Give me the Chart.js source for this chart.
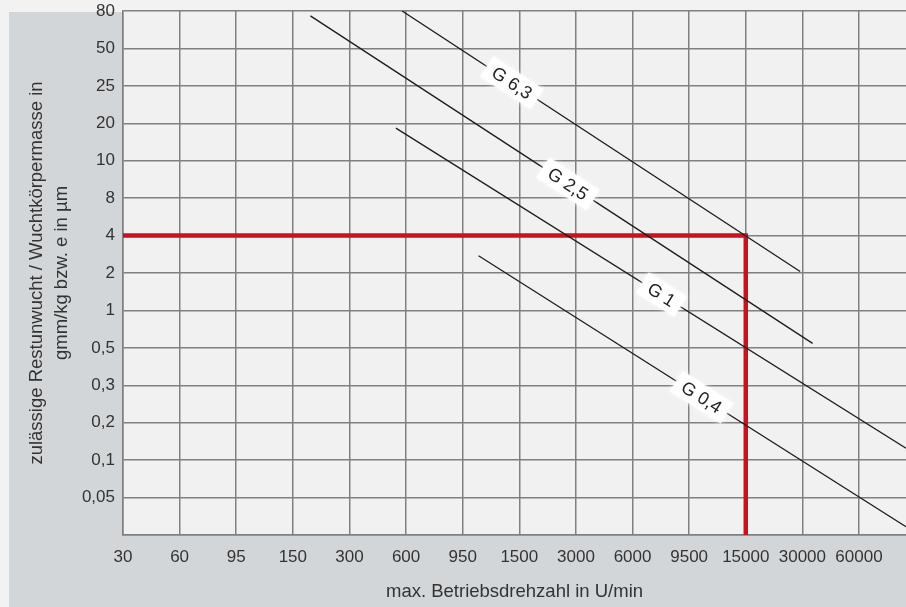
<!DOCTYPE html>
<html>
<head>
<meta charset="utf-8">
<script src="https://cdn.jsdelivr.net/npm/chart.js@4/dist/chart.umd.min.js"></script>
<style>
  html, body { margin: 0; padding: 0; background: #f2f2f2; overflow: hidden; }
  #chart { display: block; }
</style>
</head>
<body>
<canvas id="chart" width="906" height="607"></canvas>
<script>
// axis categories (equally spaced)
const xLabels = ['30', '60', '95', '150', '300', '600', '950', '1500', '3000', '6000', '9500', '15000', '30000', '60000'];
const yLabels = ['', '0,05', '0,1', '0,2', '0,3', '0,5', '1', '2', '4', '8', '10', '20', '25', '50', '80'];

// balance grade lines, positions in category steps
const gradeNames = ['G 6,3', 'G 2,5', 'G 1', 'G 0,4'];
const g63X = [4.93, 11.96];
const g63Y = [14.0, 7.04];
const g25X = [3.31, 12.18];
const g25Y = [13.87, 5.12];
const g1X = [4.82, 13.83];
const g1Y = [10.87, 2.32];
const g04X = [6.28, 13.83];
const g04Y = [7.46, 0.22];
const gradeLabelX = [6.87, 7.86, 9.51, 10.22];

// example reading: 15000 U/min -> 4
const readX = [0, 11, 11];
const readY = [8, 8, 0];

function toPoints(xs, ys) {
  return xs.map(function(x, i) { return { x: x, y: ys[i] }; });
}

const gradeLines = [toPoints(g63X, g63Y), toPoints(g25X, g25Y), toPoints(g1X, g1Y), toPoints(g04X, g04Y)];

const backdrop = {
  id: 'backdrop',
  beforeDraw: function(chart) {
    const ctx = chart.ctx;
    const a = chart.chartArea;
    ctx.save();
    ctx.fillStyle = '#f2f2f2';
    ctx.fillRect(0, 0, chart.width, chart.height);
    ctx.fillStyle = '#d3d6d9';
    ctx.fillRect(9, 12, chart.width - 9, chart.height - 12);
    ctx.fillStyle = '#f1f1f1';
    ctx.fillRect(a.left, a.top, a.right - a.left, a.bottom - a.top);
    ctx.restore();
  }
};

// white tags sitting on the grade lines
const gradeTags = {
  id: 'gradeTags',
  afterDatasetsDraw: function(chart) {
    const ctx = chart.ctx;
    const xs = chart.scales.x;
    const ys = chart.scales.y;
    ctx.save();
    ctx.font = '18px "Liberation Sans", Arial, sans-serif';
    ctx.textAlign = 'center';
    ctx.textBaseline = 'middle';
    gradeLines.forEach(function(pts, i) {
      const p0 = pts[0], p1 = pts[pts.length - 1];
      const lx = gradeLabelX[i];
      const ly = p0.y + (p1.y - p0.y) * (lx - p0.x) / (p1.x - p0.x);
      const px = xs.getPixelForValue(lx);
      const py = ys.getPixelForValue(ly);
      const ang = Math.atan2(ys.getPixelForValue(p1.y) - ys.getPixelForValue(p0.y),
                             xs.getPixelForValue(p1.x) - xs.getPixelForValue(p0.x));
      const w = ctx.measureText(gradeNames[i]).width + 16;
      ctx.save();
      ctx.translate(px, py);
      ctx.rotate(ang);
      ctx.shadowColor = 'rgba(255,255,255,0.9)';
      ctx.shadowBlur = 4;
      ctx.fillStyle = '#ffffff';
      ctx.fillRect(-w / 2, -12, w, 24);
      ctx.shadowBlur = 0;
      ctx.fillStyle = '#222222';
      ctx.fillText(gradeNames[i], 0, 1);
      ctx.restore();
    });
    ctx.restore();
  }
};

Chart.defaults.font.family = '"Liberation Sans", Arial, sans-serif';
Chart.defaults.color = '#333333';

const lineStyle = { showLine: true, borderColor: '#1c1c1c', borderWidth: 1.3, pointRadius: 0, fill: false };

new Chart(document.getElementById('chart'), {
  type: 'scatter',
  data: {
    datasets: [
      Object.assign({ label: gradeNames[0], data: gradeLines[0] }, lineStyle),
      Object.assign({ label: gradeNames[1], data: gradeLines[1] }, lineStyle),
      Object.assign({ label: gradeNames[2], data: gradeLines[2] }, lineStyle),
      Object.assign({ label: gradeNames[3], data: gradeLines[3] }, lineStyle),
      {
        label: 'Ablesung',
        data: toPoints(readX, readY),
        showLine: true,
        borderColor: '#c9121d',
        borderWidth: 4.5,
        pointRadius: 0,
        fill: false
      }
    ]
  },
  options: {
    responsive: false,
    animation: false,
    layout: { padding: { top: 11, left: 0, right: 0, bottom: 0 } },
    plugins: {
      legend: { display: false },
      tooltip: { enabled: false }
    },
    scales: {
      x: {
        type: 'linear',
        min: 0,
        max: 13.83,
        afterFit: function(scale) { scale.height = 72; },
        grid: { color: '#808080', lineWidth: 1.5, drawTicks: false },
        border: { color: '#808080', width: 1.5 },
        ticks: {
          stepSize: 1,
          includeBounds: false,
          autoSkip: false,
          maxRotation: 0,
          padding: 12,
          font: { size: 17 },
          callback: function(value) { return xLabels[value]; }
        },
        title: {
          display: true,
          text: 'max. Betriebsdrehzahl in U/min',
          font: { size: 18.5 },
          padding: { top: 0, bottom: 4 }
        }
      },
      y: {
        type: 'linear',
        min: 0,
        max: 14,
        afterFit: function(scale) { scale.width = 123; },
        grid: { color: '#808080', lineWidth: 1.5, tickLength: 8, tickColor: 'rgba(0,0,0,0)' },
        border: { color: '#808080', width: 1.5 },
        ticks: {
          stepSize: 1,
          autoSkip: false,
          padding: 0,
          font: { size: 17 },
          callback: function(value) { return yLabels[value]; }
        },
        title: {
          display: true,
          text: ['zulässige Restunwucht / Wuchtkörpermasse in', 'gmm/kg bzw. e in µm'],
          font: { size: 18.5, lineHeight: 1.35 },
          padding: { top: 24, bottom: 0 }
        }
      }
    }
  },
  plugins: [backdrop, gradeTags]
});
</script>
</body>
</html>
